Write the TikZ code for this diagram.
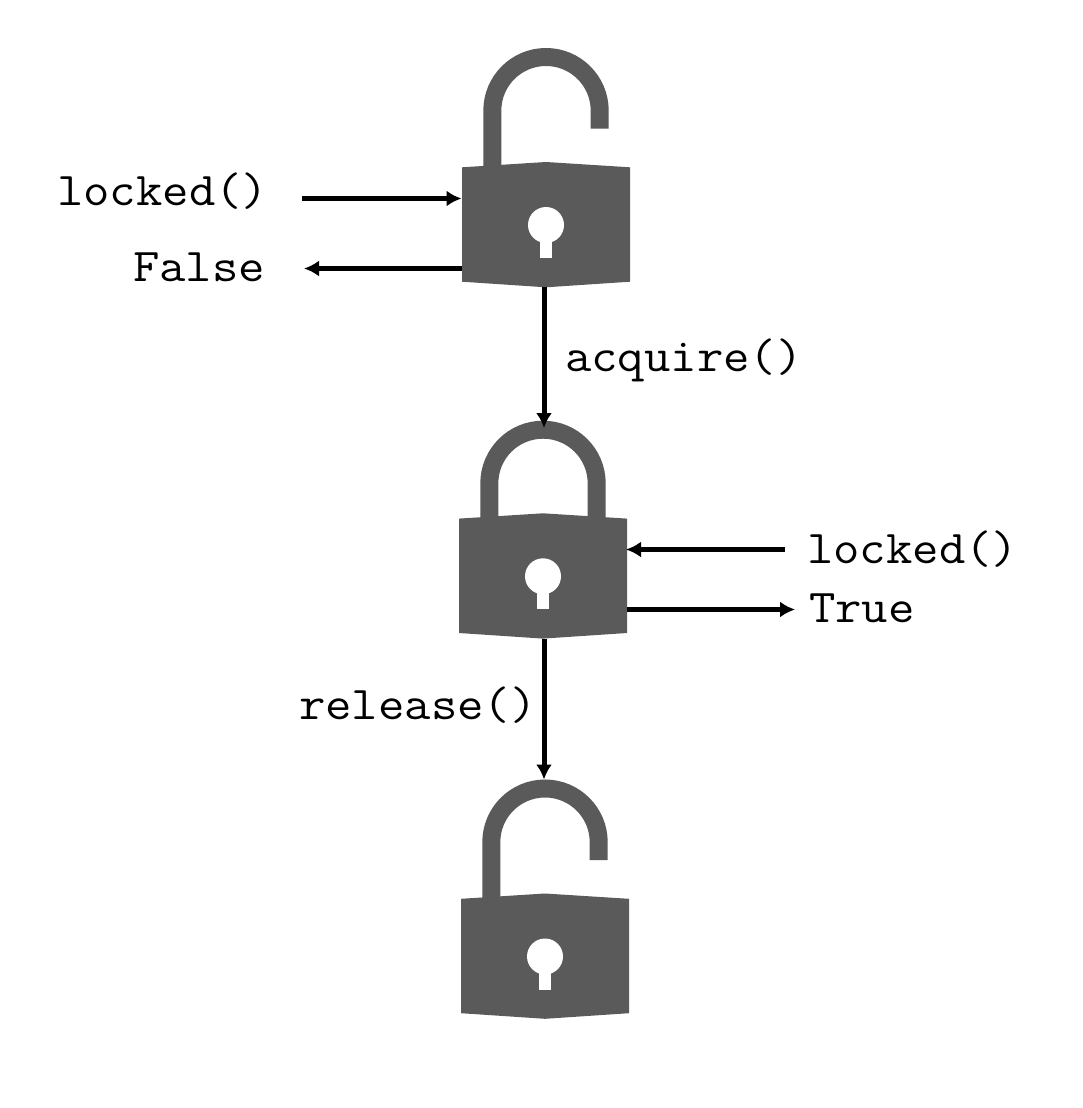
\documentclass[tikz,border=0pt]{standalone}
\usetikzlibrary{arrows.meta}
\definecolor{lockgray}{HTML}{5A5A5A}
\tikzset{
  shackle/.style={draw=lockgray,line width=18pt,line cap=butt},
  lockfill/.style={fill=lockgray,draw=none},
  hole/.style={fill=white,draw=none},
  flow/.style={draw=black,line width=5pt,-{Latex[length=15pt,width=16pt]}},
  codelabel/.style={anchor=base west,inner sep=0pt,xscale=1.09,transform shape,font=\fontsize{47}{47}\selectfont\ttfamily},
  lockbody/.pic={
    \path[lockfill] (-84,5.3)--(0,0)--(84,5.3)--(84,119.7)--(0,125.3)--(-84,119.7)--cycle;
    \path[hole] (0,63) circle[radius=18pt];
    \path[hole] (-6,63) rectangle (6,96);
  },
  openlock/.pic={
    \draw[shackle] (-53.7,8) -- (-53.7,-51.3) arc[start angle=180,end angle=0,radius=53.7pt] -- (53.7,-33.3);
    \pic {lockbody};
  },
  closedlock/.pic={
    \draw[shackle] (-53.7,8) -- (-53.7,-29.9) arc[start angle=180,end angle=0,radius=53.7pt] -- (53.7,8);
    \pic {lockbody};
  }
}
\begin{document}
\begin{tikzpicture}[x=1pt,y=-1pt]
  \path[use as bounding box,fill=white] (0,0) rectangle (1082,1108);
  \pic at (546,162) {openlock};
  \pic at (543,513.3) {closedlock};
  \pic at (545,893.5) {openlock};
  \node[codelabel] (lockedA) at (57,205) {locked()};
  \node[codelabel] (falseL) at (133,281) {False};
  \node[codelabel] (acquireL) at (565,371) {acquire()};
  \node[codelabel] (lockedB) at (807,563) {locked()};
  \node[codelabel] (trueL) at (809,622) {True};
  \node[codelabel] (releaseL) at (299,719) {release()};
  \coordinate (a1) at (302,198.5);  \coordinate (a2) at (461.5,198.5);
  \coordinate (b1) at (462,268.5);  \coordinate (b2) at (304,268.5);
  \coordinate (c1) at (544,287);  \coordinate (c2) at (544,428);
  \coordinate (d1) at (785,549.5);  \coordinate (d2) at (626,549.5);
  \coordinate (e1) at (627,609.5);  \coordinate (e2) at (795,609.5);
  \coordinate (f1) at (544,639);  \coordinate (f2) at (544,779.5);
  \draw[flow] (a1) -- (a2);
  \draw[flow] (b1) -- (b2);
  \draw[flow] (c1) -- (c2);
  \draw[flow] (d1) -- (d2);
  \draw[flow] (e1) -- (e2);
  \draw[flow] (f1) -- (f2);
\end{tikzpicture}
\end{document}
